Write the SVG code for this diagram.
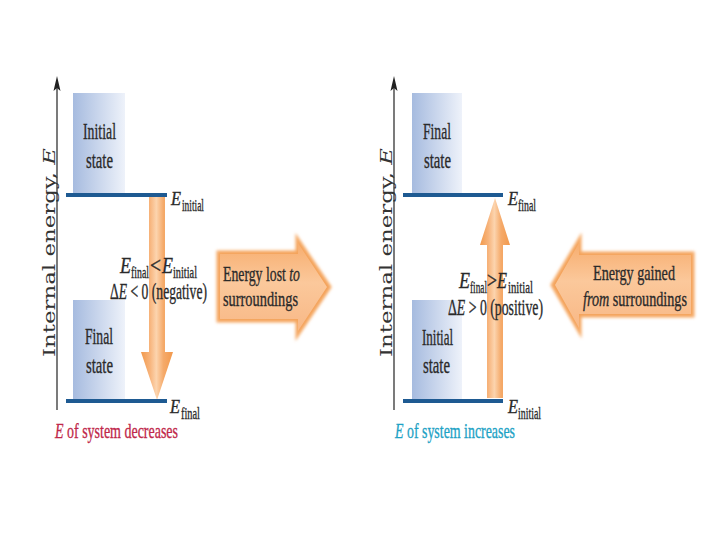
<svg xmlns="http://www.w3.org/2000/svg" width="720" height="540" viewBox="0 0 720 540">
<defs>
<style>
.t{font-family:"Liberation Serif","Times New Roman",serif;fill:#2a2a2a;stroke:#2a2a2a;stroke-width:0.35}
.st{font-size:24px}
.fx{font-size:23px}
.sub{font-size:17px}
.el{font-size:18px}
.it{font-style:italic}
.ax{font-family:"DejaVu Serif",serif;font-size:17px;fill:#333}
.lvl{stroke:#1e5a92;stroke-width:4}
.axis{stroke:#222;stroke-width:1.2}
.cap{font-size:22px}
</style>
<linearGradient id="blue" x1="0" y1="0" x2="1" y2="0">
<stop offset="0" stop-color="#a6bbdf"/>
<stop offset="1" stop-color="#eef2fa"/>
</linearGradient>
<linearGradient id="vorange" x1="0" y1="0" x2="1" y2="0">
<stop offset="0" stop-color="#f2994c"/>
<stop offset="0.28" stop-color="#f7b47c"/>
<stop offset="0.48" stop-color="#fcd4ae"/>
<stop offset="0.7" stop-color="#f5aa6a"/>
<stop offset="1" stop-color="#f2994c"/>
</linearGradient>
<linearGradient id="borange" x1="0" y1="0" x2="0" y2="1">
<stop offset="0" stop-color="#f7ad6e"/>
<stop offset="0.45" stop-color="#fbc89b"/>
<stop offset="1" stop-color="#f8b886"/>
</linearGradient>
<filter id="soft" x="-10%" y="-10%" width="120%" height="120%">
<feGaussianBlur stdDeviation="1.6"/>
</filter>
</defs>

<!-- CONNECTORS (drawn first so labels sit on top) -->
<g id="connectors">
<polygon points="149,197 165,197 165,352 173,352 157,400 141,352 149,352" fill="url(#vorange)"/>
<polygon points="487,398 503,398 503,245 510,245 495,198 480,245 487,245" fill="url(#vorange)"/>
</g>

<!-- LEFT PANEL -->
<g id="axis-left">
<line class="axis" x1="57" y1="410" x2="57" y2="80"/>
<path d="M57,76 L60.5,91 L57,88 L53.5,91 Z" fill="#222"/>
<text class="ax" transform="translate(55,357) rotate(-90)" textLength="209" lengthAdjust="spacingAndGlyphs">Internal energy, <tspan font-style="italic">E</tspan></text>
</g>

<g id="initial-state-left">
<rect x="73" y="93" width="52" height="100" fill="url(#blue)"/>
<text class="t st" x="83" y="139" textLength="33" lengthAdjust="spacingAndGlyphs">Initial</text>
<text class="t st" x="86" y="168" textLength="27" lengthAdjust="spacingAndGlyphs">state</text>
</g>

<g id="final-state-left">
<rect x="73" y="300" width="52" height="99" fill="url(#blue)"/>
<text class="t st" x="85" y="344" textLength="28" lengthAdjust="spacingAndGlyphs">Final</text>
<text class="t st" x="86" y="373" textLength="27" lengthAdjust="spacingAndGlyphs">state</text>
</g>

<g id="level-initial-left">
<line class="lvl" x1="66" y1="195" x2="167" y2="195"/>
<text class="t el it" x="171" y="205" textLength="10" lengthAdjust="spacingAndGlyphs">E</text>
<text class="t sub" x="182" y="211" textLength="22" lengthAdjust="spacingAndGlyphs">initial</text>
</g>

<g id="level-final-left">
<line class="lvl" x1="66" y1="401" x2="167" y2="401"/>
<text class="t el it" x="170" y="413" textLength="10" lengthAdjust="spacingAndGlyphs">E</text>
<text class="t sub" x="181" y="419" textLength="19" lengthAdjust="spacingAndGlyphs">final</text>
</g>

<g id="relation-left">
<text class="t fx it" x="120" y="273" textLength="11" lengthAdjust="spacingAndGlyphs">E</text>
<text class="t sub" x="131" y="278" textLength="18" lengthAdjust="spacingAndGlyphs">final</text>
<text class="t fx" x="150" y="273" textLength="11" lengthAdjust="spacingAndGlyphs">&lt;</text>
<text class="t fx it" x="162" y="273" textLength="11" lengthAdjust="spacingAndGlyphs">E</text>
<text class="t sub" x="173" y="278" textLength="24" lengthAdjust="spacingAndGlyphs">initial</text>
<text class="t fx" x="110" y="299" textLength="97" lengthAdjust="spacingAndGlyphs">Δ<tspan font-style="italic">E</tspan> &lt; 0 (negative)</text>
</g>

<g id="caption-left">
<text class="t cap" x="55" y="438" textLength="123" lengthAdjust="spacingAndGlyphs" style="fill:#c0274a;stroke:#c0274a"><tspan font-style="italic">E</tspan> of system decreases</text>
</g>

<g id="energy-lost">
<polygon points="218,252 297,252 297,238 330,287 297,336 297,321 218,321" fill="#f3a056" filter="url(#soft)" stroke="#f5a863" stroke-width="3"/>
<polygon points="220,254 298,254 298,243 327,287 298,331 298,319 220,319" fill="url(#borange)"/>
<text class="t cap" x="223" y="281" textLength="77" lengthAdjust="spacingAndGlyphs">Energy lost <tspan font-style="italic">to</tspan></text>
<text class="t cap" x="223" y="306" textLength="75" lengthAdjust="spacingAndGlyphs">surroundings</text>
</g>

<!-- RIGHT PANEL -->
<g id="axis-right">
<line class="axis" x1="394" y1="410" x2="394" y2="80"/>
<path d="M394,76 L397.5,91 L394,88 L390.5,91 Z" fill="#222"/>
<text class="ax" transform="translate(392,357) rotate(-90)" textLength="209" lengthAdjust="spacingAndGlyphs">Internal energy, <tspan font-style="italic">E</tspan></text>
</g>

<g id="final-state-right">
<rect x="412" y="93" width="50" height="100" fill="url(#blue)"/>
<text class="t st" x="423" y="139" textLength="28" lengthAdjust="spacingAndGlyphs">Final</text>
<text class="t st" x="424" y="168" textLength="27" lengthAdjust="spacingAndGlyphs">state</text>
</g>

<g id="initial-state-right">
<rect x="412" y="300" width="50" height="99" fill="url(#blue)"/>
<text class="t st" x="422" y="345" textLength="31" lengthAdjust="spacingAndGlyphs">Initial</text>
<text class="t st" x="423" y="373" textLength="27" lengthAdjust="spacingAndGlyphs">state</text>
</g>

<g id="level-final-right">
<line class="lvl" x1="403" y1="195" x2="503" y2="195"/>
<text class="t el it" x="508" y="205" textLength="10" lengthAdjust="spacingAndGlyphs">E</text>
<text class="t sub" x="518" y="211" textLength="18" lengthAdjust="spacingAndGlyphs">final</text>
</g>

<g id="level-initial-right">
<line class="lvl" x1="403" y1="401" x2="503" y2="401"/>
<text class="t el it" x="508" y="413" textLength="10" lengthAdjust="spacingAndGlyphs">E</text>
<text class="t sub" x="518" y="419" textLength="23" lengthAdjust="spacingAndGlyphs">initial</text>
</g>

<g id="relation-right">
<text class="t fx it" x="459" y="288" textLength="11" lengthAdjust="spacingAndGlyphs">E</text>
<text class="t sub" x="470" y="293" textLength="17" lengthAdjust="spacingAndGlyphs">final</text>
<text class="t fx" x="487" y="288" textLength="10" lengthAdjust="spacingAndGlyphs">&gt;</text>
<text class="t fx it" x="497" y="288" textLength="10" lengthAdjust="spacingAndGlyphs">E</text>
<text class="t sub" x="508" y="293" textLength="25" lengthAdjust="spacingAndGlyphs">initial</text>
<text class="t fx" x="448" y="315" textLength="95" lengthAdjust="spacingAndGlyphs">Δ<tspan font-style="italic">E</tspan> &gt; 0 (positive)</text>
</g>

<g id="caption-right">
<text class="t cap" x="395" y="438" textLength="120" lengthAdjust="spacingAndGlyphs" style="fill:#1da2c5;stroke:#1da2c5"><tspan font-style="italic">E</tspan> of system increases</text>
</g>

<g id="energy-gained">
<polygon points="693,253 580,253 580,238 552,285 580,333 580,316 693,316" fill="#f3a056" filter="url(#soft)" stroke="#f5a863" stroke-width="3"/>
<polygon points="691,255 579,255 579,243 555,285 579,328 579,314 691,314" fill="url(#borange)"/>
<text class="t cap" x="593" y="280" textLength="82" lengthAdjust="spacingAndGlyphs">Energy gained</text>
<text class="t cap" x="583" y="306" textLength="104" lengthAdjust="spacingAndGlyphs"><tspan font-style="italic">from</tspan> surroundings</text>
</g>
</svg>
